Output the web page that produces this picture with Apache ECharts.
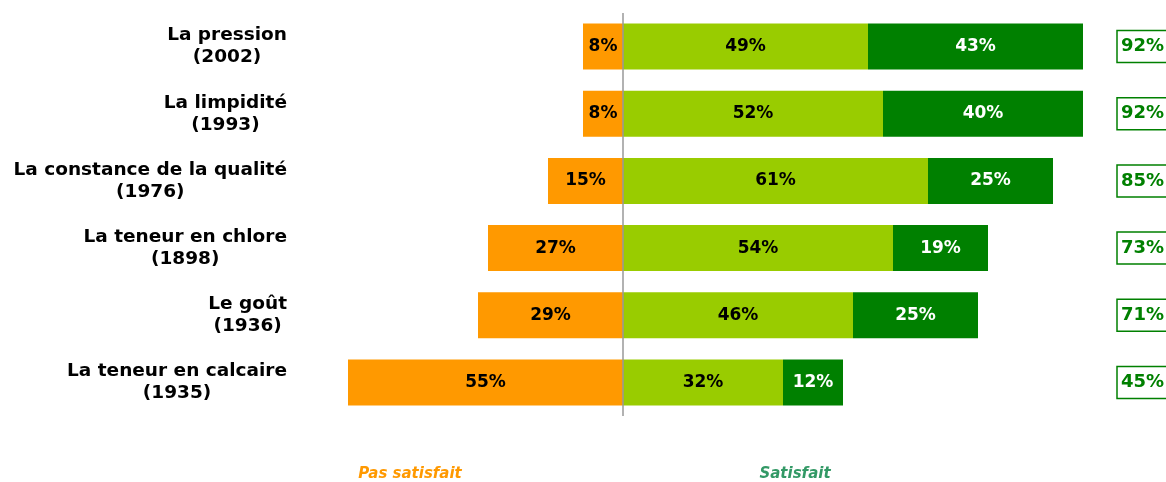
<!DOCTYPE html>
<html>
<head>
<meta charset="utf-8">
<script src="https://cdn.jsdelivr.net/npm/echarts@6/dist/echarts.min.js"></script>
<style>
  html, body { margin: 0; padding: 0; background: #fff; }
  #chart { width: 1166px; height: 482px; }
</style>
</head>
<body>
<div id="chart"></div>
<script>
// données du graphique
var criteres = ['La pression', 'La limpidité', 'La constance de la qualité', 'La teneur en chlore', 'Le goût', 'La teneur en calcaire'];
var annees = ['(2002)', '(1993)', '(1976)', '(1898)', '(1936)', '(1935)'];
var pasSatisfait = [8, 8, 15, 27, 29, 55];
var plutotSatisfait = [49, 52, 61, 54, 46, 32];
var tresSatisfait = [43, 40, 25, 19, 25, 12];
var totalSatisfait = [92, 92, 85, 73, 71, 45];

var police = "'DejaVu Sans', 'Liberation Sans', Arial, sans-serif";

function initChart() {
  var chart = echarts.init(document.getElementById('chart'));

  var labelBarre = function (couleur) {
    return {
      show: true,
      position: 'inside',
      color: couleur,
      fontFamily: police,
      fontWeight: 'bold',
      fontSize: 17,
      formatter: function (p) { return Math.abs(p.value) + '%'; }
    };
  };

  var option = {
    animation: false,
    grid: { left: 288, right: 83, top: 13, bottom: 66, containLabel: false, outerBoundsMode: 'none' },
    xAxis: { type: 'value', min: -67, max: 92, show: false },
    yAxis: [
      {
        type: 'category',
        data: criteres,
        inverse: true,
        axisLine: { show: false },
        axisTick: { show: false },
        axisLabel: {
          margin: 1,
          formatter: function (v, i) {
            return '{c|' + v + '}\n{c|' + annees[i] + '}';
          },
          rich: {
            c: {
              align: 'center',
              fontFamily: police,
              fontWeight: 'bold',
              fontSize: 18.5,
              lineHeight: 22,
              color: '#000'
            }
          }
        }
      },
      {
        type: 'category',
        data: criteres,
        inverse: true,
        position: 'right',
        axisLine: { show: false },
        axisTick: { show: false },
        axisLabel: {
          margin: 34,
          align: 'left',
          formatter: function (v, i) { return totalSatisfait[i] + '%'; },
          color: '#008000',
          fontFamily: police,
          fontWeight: 'bold',
          fontSize: 18,
          lineHeight: 20,
          borderColor: '#008000',
          borderWidth: 1.5,
          padding: [6, 8, 6, 4]
        }
      }
    ],
    series: [
      {
        name: 'Pas satisfait',
        type: 'bar',
        stack: 'total',
        barWidth: 46,
        itemStyle: { color: '#FF9900' },
        label: labelBarre('#000'),
        data: pasSatisfait.map(function (v) { return -v; })
      },
      {
        name: 'Plutôt satisfait',
        type: 'bar',
        stack: 'total',
        barWidth: 46,
        itemStyle: { color: '#99CC00' },
        label: labelBarre('#000'),
        data: plutotSatisfait,
        markLine: {
          silent: true,
          symbol: 'none',
          label: { show: false },
          lineStyle: { color: '#999999', type: 'solid', width: 1.5 },
          data: [{ xAxis: 0 }]
        }
      },
      {
        name: 'Très satisfait',
        type: 'bar',
        stack: 'total',
        barWidth: 46,
        itemStyle: { color: '#008000' },
        label: labelBarre('#fff'),
        data: tresSatisfait
      }
    ],
    graphic: [
      {
        type: 'text',
        x: 410,
        y: 474,
        style: {
          text: 'Pas satisfait',
          fill: '#FF9900',
          font: 'italic bold 15px ' + police,
          textAlign: 'center',
          textVerticalAlign: 'middle'
        }
      },
      {
        type: 'text',
        x: 795,
        y: 474,
        style: {
          text: 'Satisfait',
          fill: '#339966',
          font: 'italic bold 15px ' + police,
          textAlign: 'center',
          textVerticalAlign: 'middle'
        }
      }
    ]
  };

  chart.setOption(option);
}

initChart();
</script>
</body>
</html>
